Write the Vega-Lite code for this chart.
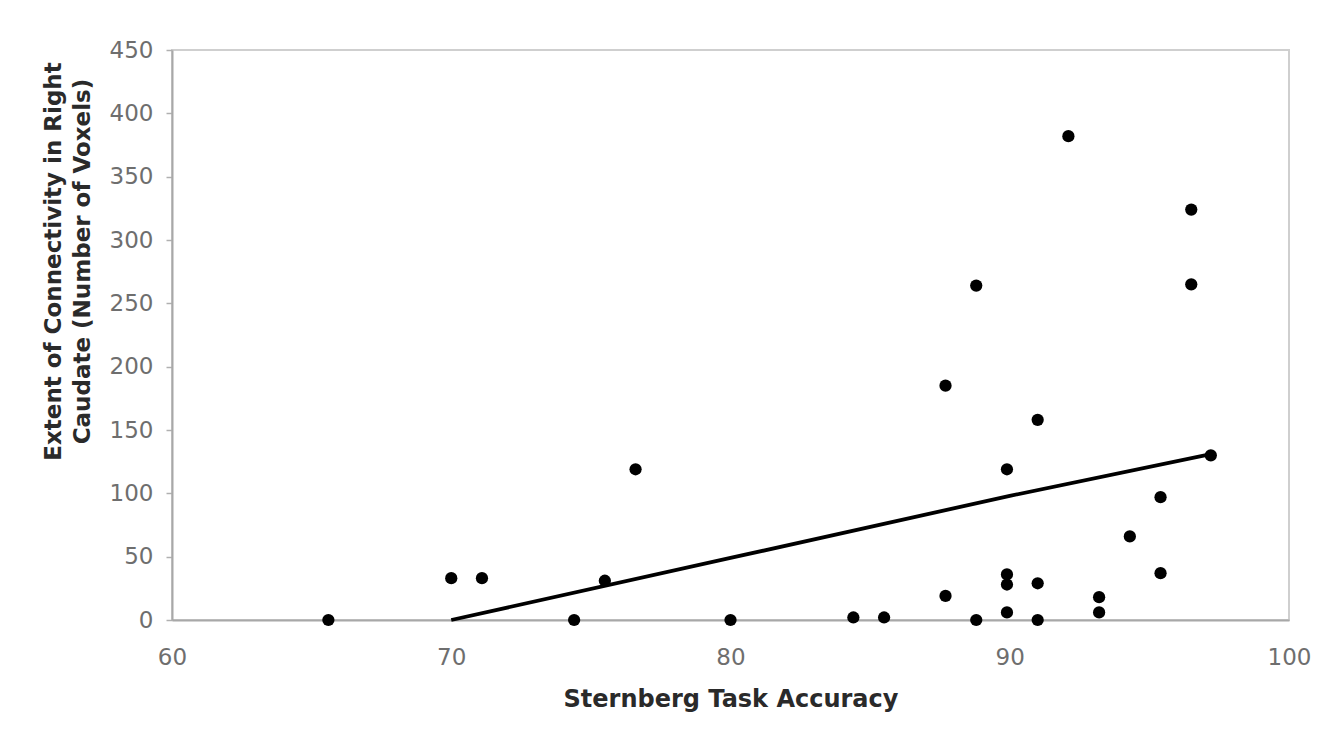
{
  "$schema": "https://vega.github.io/schema/vega-lite/v6.json",
  "width": 1117,
  "height": 570,
  "autosize": {"type": "none"},
  "padding": {"left": 172, "top": 50, "right": 54, "bottom": 119},
  "background": "white",
  "config": {
    "view": {"stroke": "#cfcfcf", "strokeWidth": 2},
    "font": "DejaVu Sans"
  },
  "datasets": {
    "points": [
      {"accuracy": 65.6, "voxels": 0},
      {"accuracy": 70.0, "voxels": 33},
      {"accuracy": 71.1, "voxels": 33},
      {"accuracy": 74.4, "voxels": 0},
      {"accuracy": 75.5, "voxels": 31},
      {"accuracy": 76.6, "voxels": 119},
      {"accuracy": 80.0, "voxels": 0},
      {"accuracy": 84.4, "voxels": 2},
      {"accuracy": 85.5, "voxels": 2},
      {"accuracy": 87.7, "voxels": 185},
      {"accuracy": 87.7, "voxels": 19},
      {"accuracy": 88.8, "voxels": 264},
      {"accuracy": 88.8, "voxels": 0},
      {"accuracy": 89.9, "voxels": 119},
      {"accuracy": 89.9, "voxels": 36},
      {"accuracy": 89.9, "voxels": 28},
      {"accuracy": 89.9, "voxels": 6},
      {"accuracy": 91.0, "voxels": 158},
      {"accuracy": 91.0, "voxels": 29},
      {"accuracy": 91.0, "voxels": 0},
      {"accuracy": 92.1, "voxels": 382},
      {"accuracy": 93.2, "voxels": 18},
      {"accuracy": 93.2, "voxels": 6},
      {"accuracy": 94.3, "voxels": 66},
      {"accuracy": 95.4, "voxels": 97},
      {"accuracy": 95.4, "voxels": 37},
      {"accuracy": 96.5, "voxels": 324},
      {"accuracy": 96.5, "voxels": 265},
      {"accuracy": 97.2, "voxels": 130}
    ],
    "trend": [
      {"accuracy": 70.0, "voxels": 0},
      {"accuracy": 80.0, "voxels": 49},
      {"accuracy": 90.0, "voxels": 98},
      {"accuracy": 97.2, "voxels": 131}
    ]
  },
  "layer": [
    {
      "data": {"name": "trend"},
      "mark": {"type": "line", "color": "black", "strokeWidth": 3.8},
      "encoding": {
        "x": {"field": "accuracy", "type": "quantitative"},
        "y": {"field": "voxels", "type": "quantitative"}
      }
    },
    {
      "data": {"name": "points"},
      "mark": {"type": "point", "shape": "circle", "filled": true, "color": "black", "opacity": 1, "size": 150},
      "encoding": {
        "x": {
          "field": "accuracy", "type": "quantitative",
          "scale": {"domain": [60, 100], "nice": false, "zero": false},
          "axis": {
            "values": [60, 70, 80, 90, 100],
            "grid": false, "ticks": false,
            "labelFlush": false, "labelOverlap": false,
            "domainColor": "#a8a8a8", "domainWidth": 2,
            "labelFontSize": 23, "labelColor": "#6e6e6e", "labelPadding": 26,
            "title": "Sternberg Task Accuracy",
            "titleFontSize": 24, "titleFontWeight": "bold", "titleColor": "#2a2a2a",
            "titleBaseline": "alphabetic", "titleY": 86
          }
        },
        "y": {
          "field": "voxels", "type": "quantitative",
          "scale": {"domain": [0, 450], "nice": false},
          "axis": {
            "values": [0, 50, 100, 150, 200, 250, 300, 350, 400, 450],
            "grid": false,
            "tickSize": 6, "tickColor": "#b0b0b0", "tickWidth": 1.5,
            "domainColor": "#a8a8a8", "domainWidth": 2,
            "labelFontSize": 23, "labelColor": "#6e6e6e", "labelPadding": 13,
            "labelFlush": false, "labelOverlap": false,
            "title": ["Extent of Connectivity in Right", "Caudate (Number of Voxels)"],
            "titleFontSize": 23, "titleFontWeight": "bold", "titleColor": "#2a2a2a",
            "titleAngle": 270, "titleBaseline": "top", "titleLineHeight": 29,
            "titleX": -130, "titleY": 211
          }
        }
      }
    }
  ]
}
